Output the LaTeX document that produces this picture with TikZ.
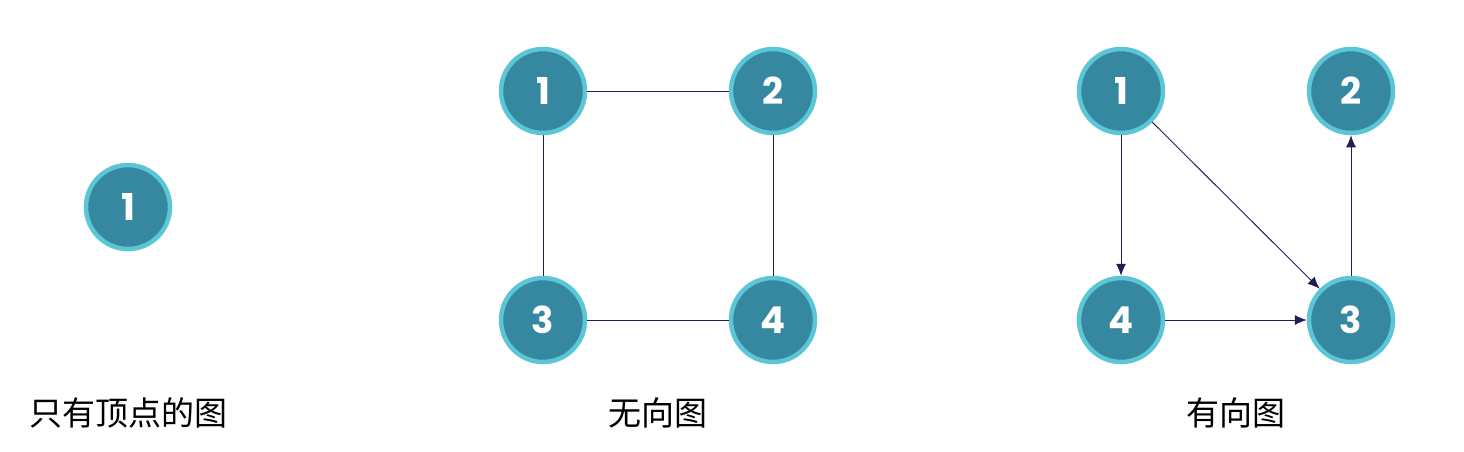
\documentclass[tikz,border=0pt]{standalone}
\usepackage{fontspec}
\setsansfont{Poppins}
\newfontfamily\cjk{Noto Sans CJK SC}
\usetikzlibrary{arrows.meta}
\definecolor{vfill}{HTML}{35889F}
\definecolor{vring}{HTML}{5CC6D6}
\definecolor{edgec}{HTML}{1E1E58}
\tikzset{
  vtx/.style={circle,fill=vfill,draw=vring,line width=4.5pt,minimum size=84pt,inner sep=0pt,
    text=white,font=\sffamily\bfseries\fontsize{37}{37}\selectfont},
  edg/.style={draw=edgec,line width=0.95pt},
  arr/.style={edg,-{Latex[length=12pt,width=10pt]}},
  captxt/.style={font=\cjk\fontsize{33}{33}\selectfont,text=black}
}
\begin{document}
\begin{tikzpicture}[x=1pt,y=-1pt]
\useasboundingbox (0,0) rectangle (1464,451);
% only vertex
\node[vtx] (s1) at (128,207) {1};
\node[captxt] (c1) at (128,413) {只有顶点的图};
% undirected
\node[vtx] (u1) at (543,91) {1};
\node[vtx] (u2) at (773,91) {2};
\node[vtx] (u3) at (543,320) {3};
\node[vtx] (u4) at (773,320) {4};
\draw[edg] (u1) -- (u2);
\draw[edg] (u1) -- (u3);
\draw[edg] (u2) -- (u4);
\draw[edg] (u3) -- (u4);
\node[captxt] (c2) at (658,413) {无向图};
% directed
\node[vtx] (d1) at (1121,91) {1};
\node[vtx] (d2) at (1351,91) {2};
\node[vtx] (d4) at (1121,320) {4};
\node[vtx] (d3) at (1351,320) {3};
\draw[arr] (d1) -- (d4);
\draw[arr] (d1) -- (d3);
\draw[arr] (d4) -- (d3);
\draw[arr] (d3) -- (d2);
\node[captxt] (c3) at (1236,413) {有向图};
\end{tikzpicture}
\end{document}
